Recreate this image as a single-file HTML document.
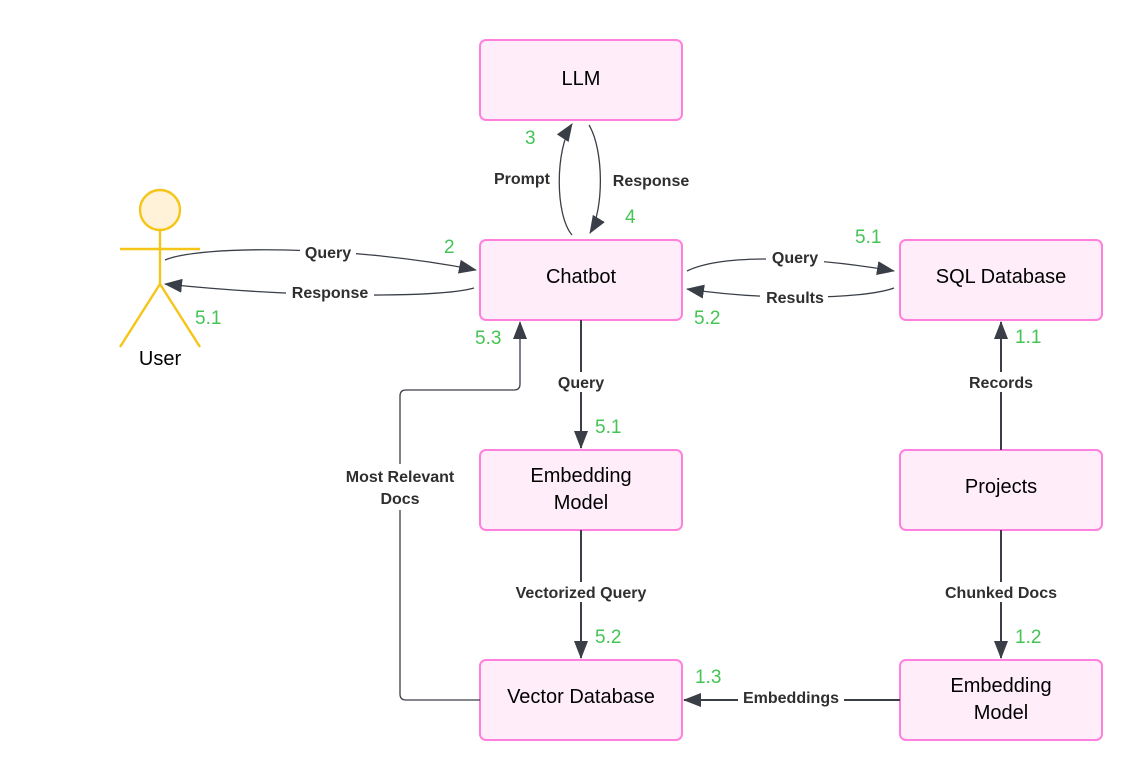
<!DOCTYPE html>
<html><head><meta charset="utf-8"><style>
html,body{margin:0;padding:0;background:#fff;}
svg{display:block;}
.box{fill:#ffeefa;stroke:#ff80df;stroke-width:2;}
.bt{font-family:"Liberation Sans",sans-serif;font-size:20px;fill:#000;text-anchor:middle;}
.lb{font-family:"Liberation Sans",sans-serif;font-size:16px;font-weight:bold;fill:#2f2f2f;text-anchor:middle;}
.n{font-family:"Liberation Sans",sans-serif;font-size:19px;fill:#44c454;}
.ln{fill:none;stroke:#3a3f47;stroke-width:2;}
.lt{fill:none;stroke:#3a3f47;stroke-width:1.3;}
</style></head><body>
<svg width="1142" height="780" viewBox="0 0 1142 780" xmlns="http://www.w3.org/2000/svg">
<defs>
<marker id="b" markerWidth="18" markerHeight="14" refX="17" refY="7" orient="auto" markerUnits="userSpaceOnUse">
<path d="M0,0 L18,7 L0,14 Z" fill="#3a3f47"/></marker>
</defs>

<!-- User -->
<circle cx="160" cy="210" r="20" fill="#fff2d9" stroke="#f5c518" stroke-width="2.4"/>
<line x1="160" y1="230" x2="160" y2="284" stroke="#f5c518" stroke-width="2.4"/>
<line x1="120" y1="249" x2="200" y2="249" stroke="#f5c518" stroke-width="2.4"/>
<line x1="160" y1="284" x2="120" y2="347" stroke="#f5c518" stroke-width="2.4"/>
<line x1="160" y1="284" x2="200" y2="347" stroke="#f5c518" stroke-width="2.4"/>
<text class="bt" x="160" y="365">User</text>

<!-- Boxes -->
<rect class="box" x="480" y="40" width="202" height="80" rx="6"/>
<text class="bt" x="581" y="85">LLM</text>
<rect class="box" x="480" y="240" width="202" height="80" rx="6"/>
<text class="bt" x="581" y="283">Chatbot</text>
<rect class="box" x="900" y="240" width="202" height="80" rx="6"/>
<text class="bt" x="1001" y="283">SQL Database</text>
<rect class="box" x="480" y="450" width="202" height="80" rx="6"/>
<text class="bt" x="581" y="482">Embedding</text>
<text class="bt" x="581" y="509">Model</text>
<rect class="box" x="900" y="450" width="202" height="80" rx="6"/>
<text class="bt" x="1001" y="493">Projects</text>
<rect class="box" x="480" y="660" width="202" height="80" rx="6"/>
<text class="bt" x="581" y="703">Vector Database</text>
<rect class="box" x="900" y="660" width="202" height="80" rx="6"/>
<text class="bt" x="1001" y="692">Embedding</text>
<text class="bt" x="1001" y="719">Model</text>

<!-- User <-> Chatbot -->
<path class="lt" d="M165,260 C200,245 350,245 476,270" marker-end="url(#b)"/>
<path class="lt" d="M474,288 C440,298 300,298 165,284" marker-end="url(#b)"/>
<rect x="300" y="243" width="56" height="18" fill="#fff"/>
<text class="lb" x="328" y="258">Query</text>
<rect x="286" y="284" width="88" height="18" fill="#fff"/>
<text class="lb" x="330" y="298">Response</text>

<!-- LLM loop -->
<path class="lt" d="M572,235 C555,215 555,150 572,124" marker-end="url(#b)"/>
<path class="lt" d="M589,125 C604,150 604,210 590,233" marker-end="url(#b)"/>
<text class="lb" x="522" y="184">Prompt</text>
<text class="lb" x="651" y="186">Response</text>

<!-- Chatbot <-> SQL -->
<path class="lt" d="M687,271 C720,255 800,255 894,271" marker-end="url(#b)"/>
<path class="lt" d="M894,288 C860,300 760,300 687,289" marker-end="url(#b)"/>
<rect x="766" y="249" width="58" height="18" fill="#fff"/>
<text class="lb" x="795" y="263">Query</text>
<rect x="760" y="289" width="68" height="18" fill="#fff"/>
<text class="lb" x="795" y="303">Results</text>

<!-- Chatbot -> Embedding -->
<path class="ln" d="M581,320 V448" marker-end="url(#b)"/>
<rect x="552" y="372" width="58" height="20" fill="#fff"/>
<text class="lb" x="581" y="388">Query</text>

<!-- Embedding -> Vector -->
<path class="ln" d="M581,530 V658" marker-end="url(#b)"/>
<rect x="505" y="582" width="152" height="20" fill="#fff"/>
<text class="lb" x="581" y="598">Vectorized Query</text>

<!-- Vector -> Chatbot -->
<path class="lt" d="M480,700 H406 Q400,700 400,694 V396 Q400,390 406,390 H514 Q520,390 520,384 V322" marker-end="url(#b)"/>
<rect x="336" y="464" width="128" height="46" fill="#fff"/>
<text class="lb" x="400" y="482">Most Relevant</text>
<text class="lb" x="400" y="504">Docs</text>

<!-- Projects -> SQL -->
<path class="ln" d="M1001,450 V322" marker-end="url(#b)"/>
<rect x="962" y="372" width="78" height="20" fill="#fff"/>
<text class="lb" x="1001" y="388">Records</text>

<!-- Projects -> Embedding2 -->
<path class="ln" d="M1001,530 V658" marker-end="url(#b)"/>
<rect x="936" y="582" width="130" height="20" fill="#fff"/>
<text class="lb" x="1001" y="598">Chunked Docs</text>

<!-- Embedding2 -> Vector -->
<path class="ln" d="M900,700 H684" marker-end="url(#b)"/>
<rect x="738" y="688" width="106" height="20" fill="#fff"/>
<text class="lb" x="791" y="703">Embeddings</text>

<!-- numbers -->
<text class="n" x="444" y="253">2</text>
<text class="n" x="195" y="324">5.1</text>
<text class="n" x="525" y="144">3</text>
<text class="n" x="625" y="223">4</text>
<text class="n" x="855" y="243">5.1</text>
<text class="n" x="694" y="324">5.2</text>
<text class="n" x="475" y="344">5.3</text>
<text class="n" x="595" y="433">5.1</text>
<text class="n" x="595" y="643">5.2</text>
<text class="n" x="1015" y="343">1.1</text>
<text class="n" x="1015" y="643">1.2</text>
<text class="n" x="695" y="683">1.3</text>
</svg>
</body></html>
